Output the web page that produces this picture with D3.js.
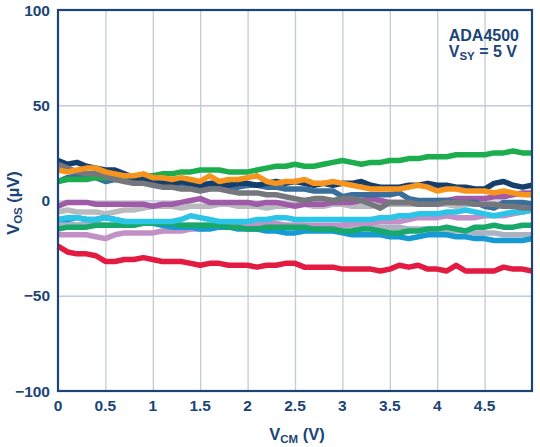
<!DOCTYPE html>
<html>
<head>
<meta charset="utf-8">
<script src="https://cdn.jsdelivr.net/npm/d3@7"></script>
<style>
  html, body { margin: 0; padding: 0; background: #fff; }
  svg { display: block; font-family: "Liberation Sans", Arial, Helvetica, sans-serif; font-weight: bold; }
</style>
</head>
<body>
<div id="chart"></div>
<script>
// ADA4500 VOS vs VCM, VSY = 5 V

var VCM = [0, 0.1, 0.2, 0.3, 0.4, 0.5, 0.6, 0.7, 0.8, 0.9, 1, 1.1, 1.2, 1.3, 1.4, 1.5, 1.6, 1.7, 1.8, 1.9,
  2, 2.1, 2.2, 2.3, 2.4, 2.5, 2.6, 2.7, 2.8, 2.9, 3, 3.1, 3.2, 3.3, 3.4, 3.5, 3.6, 3.7, 3.8, 3.9,
  4, 4.1, 4.2, 4.3, 4.4, 4.5, 4.6, 4.7, 4.8, 4.9, 5];

var X_TICKS = [0, 0.5, 1, 1.5, 2, 2.5, 3, 3.5, 4, 4.5];
var X_TICK_LABELS = ["0", "0.5", "1", "1.5", "2", "2.5", "3", "3.5", "4", "4.5"];
var Y_TICKS = [-100, -50, 0, 50, 100];
var Y_TICK_LABELS = ["\u2212100", "\u221250", "0", "50", "100"];

// one array per unit, VOS in µV
var SLATE = [-12, -12, -13, -12, -12, -13, -13, -12, -12, -12, -12, -12, -13, -13, -13, -13, -13, -13, -13, -13,
  -13, -13, -13, -13, -13, -13, -13, -14, -14, -14, -13, -13, -14, -14, -14, -14, -14, -15, -15, -15,
  -15, -16, -16, -16, -17, -17, -17, -18, -18, -18, -18];
var LIGHTGRAY = [-6, -5, -6, -6, -6, -7, -6, -5, -5, -4, -3, -3, -3, -4, -3, -3, -3, -2, -2, -3,
  -3, -3, -4, -3, -3, -2, -2, -3, -3, -2, -2, -3, -3, -3, -2, -2, -2, -2, -2, -2,
  -2, -2, -3, -2, -2, -2, -3, -3, -3, -3, -3];
var LILAC = [-18, -18, -18, -18, -19, -20, -18, -17, -17, -17, -17, -16, -16, -16, -15, -15, -14, -14, -14, -14,
  -13, -13, -12, -12, -13, -13, -13, -13, -13, -13, -13, -12, -12, -12, -11, -11, -11, -10, -9, -9,
  -9, -8, -9, -9, -9, -8, -8, -8, -7, -6, -5];
var BLUE = [-10, -10, -9, -10, -10, -9, -10, -11, -12, -12, -12, -13, -14, -14, -14, -15, -15, -14, -14, -15,
  -15, -15, -16, -16, -17, -17, -16, -16, -16, -16, -17, -18, -18, -18, -18, -19, -19, -20, -19, -18,
  -18, -18, -19, -19, -20, -20, -21, -21, -21, -21, -20];
var GREEN2 = [-15, -14, -14, -14, -13, -13, -13, -13, -13, -12, -12, -12, -12, -13, -13, -13, -13, -13, -14, -14,
  -15, -15, -14, -14, -14, -14, -14, -15, -15, -15, -16, -16, -15, -15, -16, -17, -17, -16, -16, -15,
  -15, -14, -15, -16, -14, -14, -13, -14, -14, -13, -13];
var CYAN = [-10, -9, -9, -10, -10, -9, -10, -11, -11, -11, -11, -11, -11, -10, -8, -9, -10, -11, -11, -11,
  -11, -10, -10, -9, -9, -10, -10, -10, -10, -10, -10, -10, -10, -10, -9, -9, -8, -8, -7, -7,
  -7, -6, -6, -5, -6, -7, -8, -7, -6, -6, -5];
var PURPLE = [-3, -1, -1, -1, -2, -2, -2, -2, -2, -2, -3, -2, -2, -1, 0, 1, -1, -1, -1, -1,
  -1, -2, -1, -1, -2, -3, -2, -2, -2, -1, -1, -1, 0, 1, 0, -1, -1, -1, -1, -1,
  0, 0, 1, 1, 1, 1, 2, 2, 3, 4, 4];
var STEEL = [10, 12, 13, 14, 12, 10, 11, 11, 10, 10, 10, 9, 9, 9, 8, 8, 7, 7, 7, 7,
  8, 8, 7, 7, 6, 6, 6, 5, 5, 5, 2, 3, 3, 3, 3, 3, 4, 1, 0, 0,
  0, 0, -1, -1, -1, -3, -4, -1, -1, -1, -2];
var GREEN = [10, 11, 11, 11, 12, 12, 12, 13, 13, 13, 13, 14, 14, 15, 15, 16, 16, 16, 15, 15,
  15, 16, 17, 18, 18, 19, 18, 18, 19, 20, 21, 20, 19, 20, 20, 21, 21, 22, 22, 23,
  23, 23, 24, 24, 24, 24, 25, 25, 26, 25, 25];
var NAVY = [21, 19, 20, 18, 17, 16, 16, 14, 12, 11, 10, 9, 9, 10, 9, 8, 9, 9, 8, 9,
  9, 8, 9, 10, 9, 10, 9, 8, 9, 8, 9, 9, 10, 8, 7, 7, 7, 8, 8, 9,
  8, 8, 7, 7, 6, 6, 9, 10, 8, 7, 8];
var GRAY = [19, 17, 15, 14, 14, 13, 11, 10, 9, 9, 8, 7, 7, 6, 6, 5, 6, 6, 5, 4,
  4, 4, 3, 3, 2, 1, 0, 1, 1, 0, 1, 1, 0, -2, -4, -1, -1, -1, -2, -2,
  -2, -1, -1, -1, -2, -2, -2, -3, -3, -4, -4];
var ORANGE = [16, 15, 16, 17, 17, 15, 14, 13, 13, 14, 12, 12, 11, 12, 11, 10, 13, 10, 11, 11,
  12, 13, 10, 9, 10, 10, 11, 9, 9, 10, 9, 8, 7, 6, 6, 6, 6, 7, 8, 7,
  5, 6, 6, 5, 5, 5, 4, 5, 4, 3, 3];
var RED = [-24, -27, -28, -28, -29, -32, -32, -31, -31, -30, -31, -32, -32, -32, -33, -34, -33, -33, -34, -34,
  -34, -35, -34, -34, -33, -33, -35, -35, -35, -35, -36, -36, -36, -36, -37, -36, -34, -35, -34, -36,
  -36, -37, -34, -37, -37, -37, -37, -35, -36, -36, -37];

var SERIES_NAMES = ["slate", "lightgray", "lilac", "blue", "green2", "cyan", "purple", "steel", "green", "navy", "gray", "orange", "red"];
var SERIES_VALUES = [SLATE, LIGHTGRAY, LILAC, BLUE, GREEN2, CYAN, PURPLE, STEEL, GREEN, NAVY, GRAY, ORANGE, RED];
var SERIES_COLORS = ["#a9b3c2", "#b8babe", "#c290c6", "#169ad4", "#17a86a", "#2bc6e7", "#9f5aa8", "#3b6f9b", "#1cae4c", "#163e6c", "#76777c", "#f7941d", "#e31b40"];

(function () {
  "use strict";

  var W = 540, H = 447;
  var INK = "#1b4576";
  var m = { left: 58, right: 532, top: 10, bottom: 391 };

  var svg = d3.select("#chart").append("svg")
    .attr("width", W)
    .attr("height", H);

  var x = d3.scaleLinear().domain([0, 5]).range([m.left, m.right]);
  var y = d3.scaleLinear().domain([-100, 100]).range([m.bottom, m.top]);

  // gridlines
  svg.append("g")
    .attr("transform", "translate(0," + m.bottom + ")")
    .call(d3.axisBottom(x).tickValues(X_TICKS.slice(1)).tickSize(-(m.bottom - m.top)).tickFormat(""))
    .call(function (g) { g.select(".domain").remove(); })
    .selectAll("line").attr("stroke", "#c3cbd6").attr("stroke-width", 1.3);

  svg.append("g")
    .attr("transform", "translate(" + m.left + ",0)")
    .call(d3.axisLeft(y).tickValues(Y_TICKS.slice(1, -1)).tickSize(-(m.right - m.left)).tickFormat(""))
    .call(function (g) { g.select(".domain").remove(); })
    .selectAll("line").attr("stroke", "#c3cbd6").attr("stroke-width", 1.3);

  // data lines
  var line = d3.line()
    .x(function (d, i) { return x(VCM[i]); })
    .y(function (d) { return y(d); });

  svg.append("g").selectAll("path.trace")
    .data(SERIES_VALUES)
    .enter()
    .append("path")
    .attr("class", function (d, i) { return "trace " + SERIES_NAMES[i]; })
    .attr("d", line)
    .attr("fill", "none")
    .attr("stroke", function (d, i) { return SERIES_COLORS[i]; })
    .attr("stroke-width", 5.5)
    .attr("stroke-linejoin", "round")
    .attr("stroke-linecap", "butt");

  // frame
  svg.append("rect")
    .attr("x", m.left).attr("y", m.top)
    .attr("width", m.right - m.left).attr("height", m.bottom - m.top)
    .attr("fill", "none").attr("stroke", INK).attr("stroke-width", 2.2);

  // tick labels
  svg.append("g").selectAll("text")
    .data(X_TICKS)
    .enter()
    .append("text")
    .attr("x", function (d) { return x(d); })
    .attr("y", 411)
    .attr("text-anchor", "middle")
    .attr("font-size", 15.5)
    .attr("fill", INK)
    .text(function (d, i) { return X_TICK_LABELS[i]; });

  svg.append("g").selectAll("text")
    .data(Y_TICKS)
    .enter()
    .append("text")
    .attr("x", 50)
    .attr("y", function (d) { return y(d); })
    .attr("dy", "0.36em")
    .attr("text-anchor", "end")
    .attr("font-size", 15.5)
    .attr("fill", INK)
    .text(function (d, i) { return Y_TICK_LABELS[i]; });

  // axis titles
  var xt = svg.append("text")
    .attr("x", 297).attr("y", 440)
    .attr("text-anchor", "middle")
    .attr("font-size", 16.5)
    .attr("fill", INK);
  xt.append("tspan").text("V");
  xt.append("tspan").attr("font-size", 11.5).attr("dy", 3).text("CM");
  xt.append("tspan").attr("dy", -3).text(" (V)");

  var yt = svg.append("text")
    .attr("transform", "translate(19,203) rotate(-90)")
    .attr("text-anchor", "middle")
    .attr("font-size", 16.5)
    .attr("fill", INK);
  yt.append("tspan").text("V");
  yt.append("tspan").attr("font-size", 11.5).attr("dy", 3).text("OS");
  yt.append("tspan").attr("dy", -3).text("  (\u00b5V)");

  // part annotation
  svg.append("text")
    .attr("x", 519).attr("y", 41)
    .attr("text-anchor", "end")
    .attr("font-size", 16)
    .attr("fill", INK)
    .text("ADA4500");

  var sy = svg.append("text")
    .attr("x", 517).attr("y", 57)
    .attr("text-anchor", "end")
    .attr("font-size", 16)
    .attr("fill", INK);
  sy.append("tspan").text("V");
  sy.append("tspan").attr("font-size", 11.5).attr("dy", 3).text("SY");
  sy.append("tspan").attr("dy", -3).text(" = 5 V");
})();
</script>
</body>
</html>
